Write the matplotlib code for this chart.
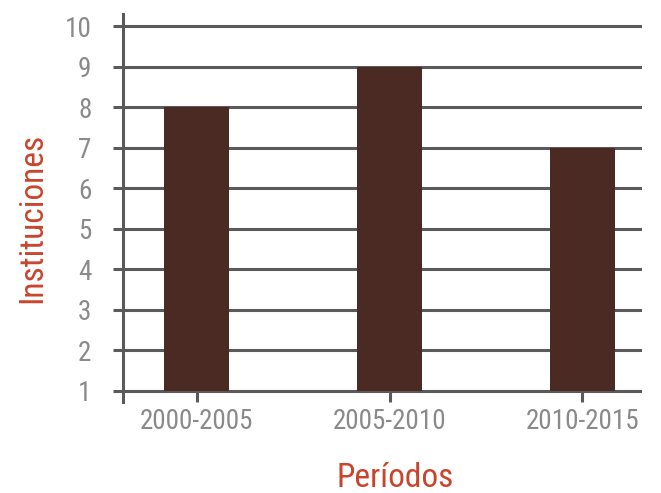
import matplotlib
matplotlib.use("Agg")
import matplotlib.pyplot as plt

categories = ["2000-2005", "2005-2010", "2010-2015"]
values = [8, 9, 7]
yticks = [1, 2, 3, 4, 5, 6, 7, 8, 9, 10]

fam = ["Roboto Condensed", "DejaVu Sans"]

W, H = 661, 493
fig = plt.figure(figsize=(W / 100, H / 100), dpi=100)
ax = fig.add_axes([123 / W, (H - 402) / H, (642 - 123) / W, (402 - 14) / H])

grid_c = "#5a5a5a"
bar_c = "#4a2a22"
tick_c = "#8a8a8a"
lab_c = "#c8452c"

base = 1
x = range(len(categories))
ax.set_xlim(-0.383, 2.31)
ax.set_ylim(0.72, 10.3)
for yv in yticks:
    ax.axhline(yv, color=grid_c, lw=2.2, zorder=1)
ax.bar(x, [v - base for v in values], bottom=base, width=0.337, color=bar_c, zorder=2)

for s in ["top", "right", "bottom"]:
    ax.spines[s].set_visible(False)
ax.spines["left"].set_color(grid_c)
ax.spines["left"].set_linewidth(2.2)

ax.set_yticks(yticks)
ax.set_yticklabels([str(v) for v in yticks], family=fam, fontsize=19.5, color=tick_c)
ax.set_xticks(list(x))
ax.set_xticklabels(categories, family=fam, fontsize=19.5, color=tick_c)
ax.tick_params(axis="y", length=7.2, width=2.2, color=grid_c, pad=15.5)
ax.tick_params(axis="x", length=0, width=2.2, color=grid_c, pad=4.5)
for xi in x:
    ax.plot([xi, xi], [base, 0.72], color=grid_c, lw=2.2, clip_on=False, zorder=1, solid_capstyle="butt")

fig.text(32 / W, 1 - 218 / H, "Instituciones", rotation=90, ha="center", va="center",
         family=fam, fontsize=24, color=lab_c)
fig.text(395 / W, 1 - 478 / H, "Períodos", ha="center", va="center",
         family=fam, fontsize=24, color=lab_c)

fig.savefig("out.png", dpi=100)
